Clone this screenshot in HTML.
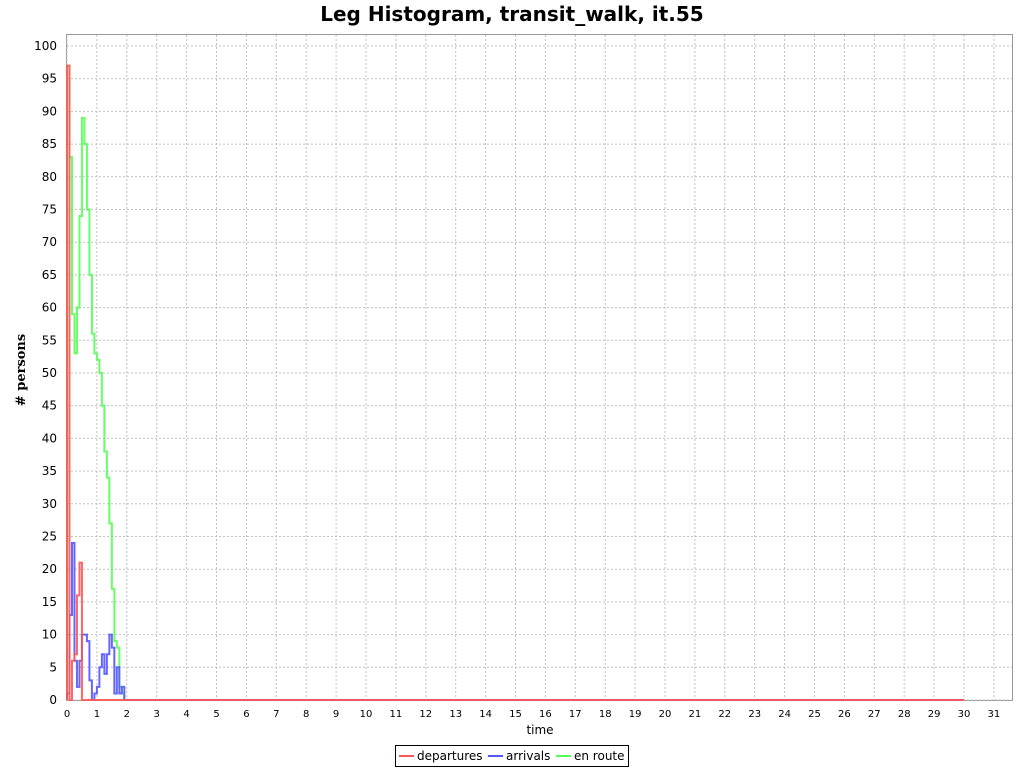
<!DOCTYPE html>
<html><head><meta charset="utf-8"><style>
body{margin:0;background:#fff;font-family:"Liberation Sans","DejaVu Sans",sans-serif;}
</style></head><body>
<svg id="chart" width="1024" height="768" xmlns="http://www.w3.org/2000/svg">
<rect width="1024" height="768" fill="#fff"/>
<text x="512" y="21" text-anchor="middle" font-family="DejaVu Sans, sans-serif" font-weight="bold" font-size="20">Leg Histogram, transit_walk, it.55</text>
<rect x="66.5" y="34.5" width="946" height="666" fill="#fff" stroke="#999"/>
<g id="grid"></g><g id="axes"></g><g id="series"></g>
<text x="540" y="734" text-anchor="middle" font-family="DejaVu Sans, sans-serif" font-size="12">time</text>
<text transform="translate(25,370) rotate(-90)" text-anchor="middle" font-family="DejaVu Serif, serif" font-weight="bold" font-size="13"># persons</text>
<g>
<rect x="395.5" y="745.5" width="233" height="21" fill="#fff" stroke="#000"/>
<line x1="399" y1="756" x2="414" y2="756" stroke="#ff5555" stroke-width="2"/>
<text x="417" y="760" font-family="DejaVu Sans, sans-serif" font-size="12">departures</text>
<line x1="488" y1="756" x2="503" y2="756" stroke="#5555ff" stroke-width="2"/>
<text x="506" y="760" font-family="DejaVu Sans, sans-serif" font-size="12">arrivals</text>
<line x1="556" y1="756" x2="571" y2="756" stroke="#55ff55" stroke-width="2"/>
<text x="574" y="760" font-family="DejaVu Sans, sans-serif" font-size="12">en route</text>
</g>
</svg>
<script>
const binWidth = 1/12;
const departures = [97,0,6,7,16,21,0];
const arrivals = [1,13,24,6,2,6,10,10,9,3,0,1,2,5,7,4,7,10,8,1,5,1,2,0];
const enRoute = [97,83,59,53,60,74,89,85,75,65,56,53,52,50,45,38,34,27,17,9,8,2,1,0];
const xTicks = Array.from({length:32},(_,i)=>i);
const yTicks = Array.from({length:21},(_,i)=>i*5);
const xEnd = 30;
const X = t => 67 + t*29.9;
const Y = v => 700 - v*6.54;
const NS="http://www.w3.org/2000/svg";
const grid=document.getElementById('grid'), axes=document.getElementById('axes'), ser=document.getElementById('series');
function mk(tag,attrs,parent){const e=document.createElementNS(NS,tag);for(const k in attrs)e.setAttribute(k,attrs[k]);parent.appendChild(e);return e;}
xTicks.forEach(t=>{
  const gl=mk('line',{x1:X(t),x2:X(t),y1:35,y2:700,stroke:'#c0c0c0','stroke-dasharray':'2,2','stroke-width':1},grid);
  
  
  const tx=mk('text',{x:X(t),y:717,'text-anchor':'middle','font-size':10,'font-family':'DejaVu Sans, sans-serif'},axes);
  tx.textContent=t;
  
  
});
yTicks.forEach(v=>{
  const gl=mk('line',{x1:67,x2:1012,y1:Y(v),y2:Y(v),stroke:'#c0c0c0','stroke-dasharray':'2,2','stroke-width':1},grid);
  
  
  const tx=mk('text',{x:57,y:Y(v)+4,'text-anchor':'end','font-size':12,'font-family':'DejaVu Sans, sans-serif'},axes);
  tx.textContent=v;
  
  
});
function stepPath(vals,color,name){
  let d=`M${X(0)},${Y(0)}`;
  vals.forEach((v,i)=>{d+=` L${X(i*binWidth)},${Y(v)} L${X((i+1)*binWidth)},${Y(v)}`;});
  d+=` L${X(vals.length*binWidth)},${Y(0)} L${X(xEnd)},${Y(0)}`;
  const p=mk('path',{d:d,fill:'none',stroke:color,'stroke-width':2,'stroke-opacity':0.9},ser);
  
  
}
stepPath(enRoute,'#55ff55','en-route-series');
stepPath(arrivals,'#5555ff','arrivals-series');
stepPath(departures,'#ff5555','departures-series');
</script>
</body></html>
